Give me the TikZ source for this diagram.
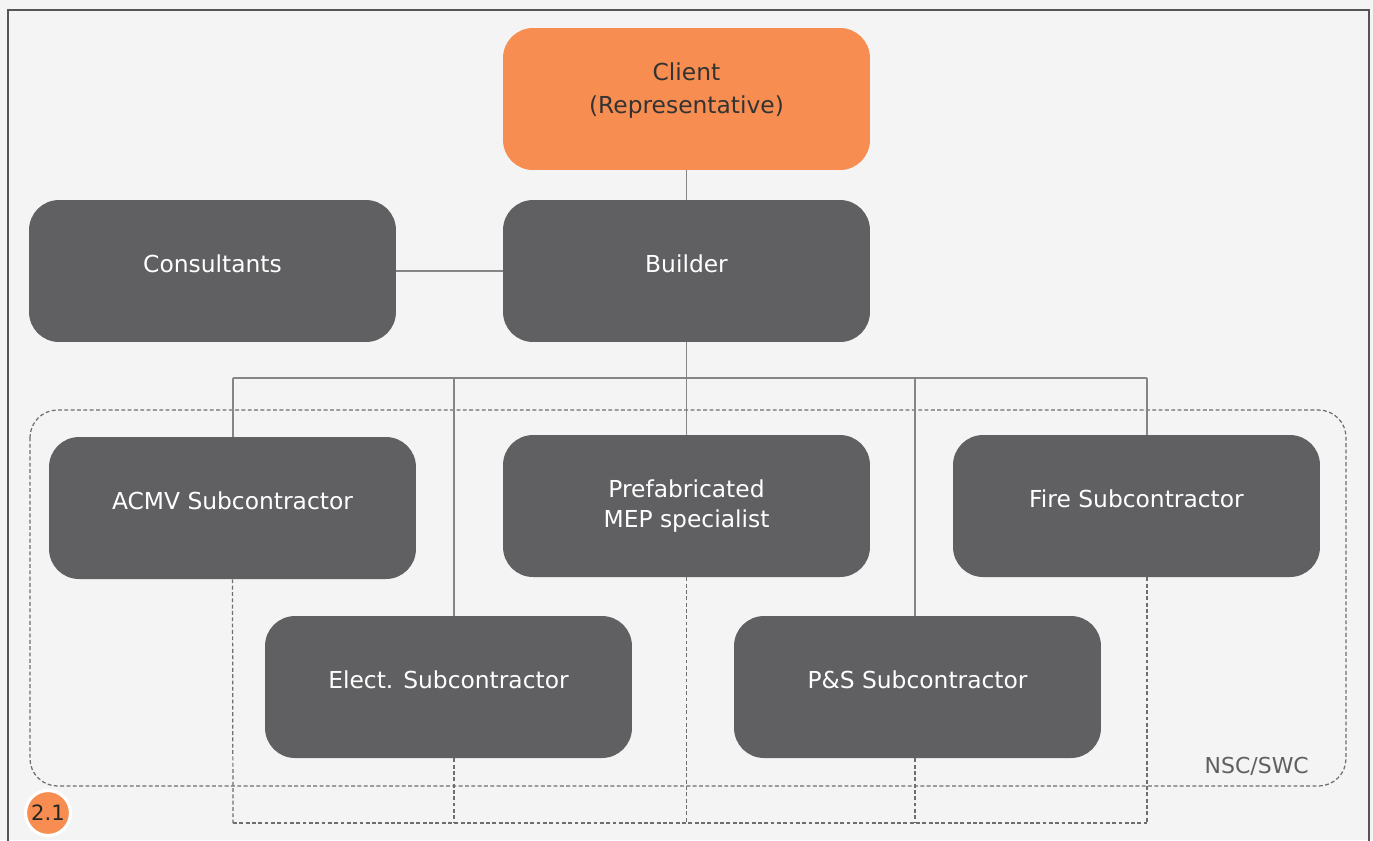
\documentclass[tikz,border=0pt]{standalone}
\usepackage{fontspec}
\setmainfont{DejaVu Sans}
\usepackage{tikz}
\usetikzlibrary{arrows.meta}

\definecolor{boxgray}{HTML}{606062}
\definecolor{clientorange}{HTML}{F78D50}
\definecolor{linegray}{HTML}{858585}
\definecolor{dashgray}{HTML}{6E6E6E}
\definecolor{framegray}{HTML}{555555}
\definecolor{bggray}{HTML}{F4F4F4}

\begin{document}
\begin{tikzpicture}[x=0.02cm,y=-0.02cm,
    role/.style={rectangle,rounded corners=0.6cm,fill=boxgray,text=white,
        minimum width=7.34cm,minimum height=2.84cm,align=center,
        font=\fontsize{13.3}{17.5}\selectfont,inner sep=0pt},
    oneline/.style={text depth=0.3cm},
    link/.style={draw=linegray,line width=0.6pt},
    nsc/.style={draw=dashgray,line width=0.7pt,dash pattern=on 2.2pt off 1.4pt}]
\useasboundingbox (0,0) rectangle (1373,840);
\fill[bggray] (0,0) rectangle (1373,840);
\draw[framegray,line width=1pt] (8,845) -- (8,10) -- (1369,10) -- (1369,845);

% dashed NSC/SWC group
\draw[nsc,rounded corners=0.55cm] (30,410) rectangle (1346,786);
\node[text=boxgray,font=\fontsize{12.5}{14}\selectfont,anchor=east] (grp) at (1315,766) {NSC/SWC};

\begin{scope}[every node/.style={role}]
    \node[fill=clientorange,text=black!80,text depth=0.43cm,
        font=\fontsize{13.3}{18.7}\selectfont] (client) at (686.5,99) {Client\\(Representative)};
    \node[oneline] (builder) at (686.5,271) {Builder};
    \node[oneline] (consult) at (212.5,271) {Consultants};
    \node[oneline] (acmv) at (232.5,508) {ACMV Subcontractor};
    \node (mep) at (686.5,506) {Prefabricated\\MEP specialist};
    \node[oneline] (fire) at (1136.5,506) {Fire Subcontractor};
    \node[oneline] (elect) at (448.5,687) {Elect. Subcontractor};
    \node[oneline] (ps) at (917.5,687) {P\&S Subcontractor};
\end{scope}

% drop points on the bus
\coordinate (bus) at (686.5,378);
\coordinate (dA) at (233,378);
\coordinate (dE) at (454,378);
\coordinate (dP) at (915,378);
\coordinate (dF) at (1147,378);

\path [link] (client) edge (builder);
\path [link] (consult) edge (builder);
\draw [link] (builder.south) -- (bus);
\draw [link] (dA) -- (dF);
\draw [link] (dA) -- (dA |- acmv.north);
\draw [link] (dE) -- (dE |- elect.north);
\draw [link] (bus) -- (mep.north);
\draw [link] (dP) -- (dP |- ps.north);
\draw [link] (dF) -- (dF |- fire.north);

% dashed links below the boxes
\coordinate (bA) at (233,823);
\coordinate (bF) at (1147,823);
\draw [nsc] (bA) -- (bF);
\draw [nsc] (acmv.south) -- (bA);
\draw [nsc] (dE |- elect.south) -- (dE |- bA);
\draw [nsc] (mep.south) -- (mep.south |- bA);
\draw [nsc] (dP |- ps.south) -- (dP |- bA);
\draw [nsc] (dF |- fire.south) -- (bF);

% page badge
\node[circle,fill=clientorange,draw=white,line width=1.8pt,minimum size=0.9cm,
    inner sep=0pt,font=\fontsize{12}{14}\selectfont,text=black!85] (badge) at (48,813) {2.1};
\end{tikzpicture}
\end{document}
